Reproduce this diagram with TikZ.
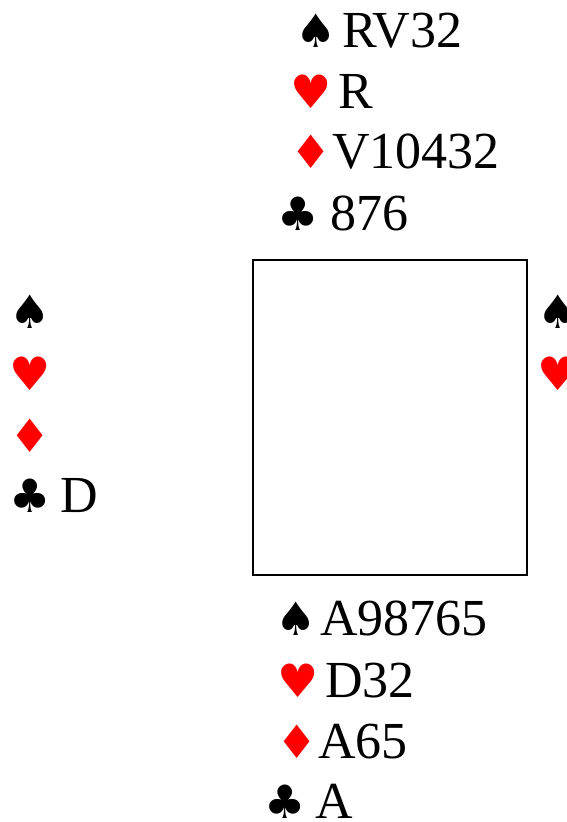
\documentclass[tikz,border=0pt]{standalone}
\usepackage{fontspec}
\setmainfont{Liberation Serif}
\newfontfamily\suitfont{DejaVu Sans}
\definecolor{SuitRed}{rgb}{1,0,0}

\begin{document}
\begin{tikzpicture}[x=1pt,y=-1pt,
  suit/.style={inner sep=0pt,anchor=base west,font=\suitfont\fontsize{46}{54}\selectfont},
  holding/.style={inner sep=0pt,anchor=base west,font=\fontsize{52}{60}\selectfont}]
\useasboundingbox (0,0) rectangle (566,822);

% table
\node[draw,line width=1.5pt,minimum width=274pt,minimum height=315pt,inner sep=0pt] (table) at (390,417.5) {};

% north
\node[suit] (nS) at (295,47) {♠};
\node[holding] (nSh) at (342,47) {RV32};
\node[suit,SuitRed] (nH) at (290,108) {♥};
\node[holding] (nHh) at (338,108) {R};
\node[suit,SuitRed] (nD) at (290,168) {♦};
\node[holding] (nDh) at (332,168) {V10432};
\node[suit] (nC) at (277,230) {♣};
\node[holding] (nCh) at (330,230) {876};

% west
\node[suit] (wS) at (9,328) {♠};
\node[suit,SuitRed] (wH) at (9,390) {♥};
\node[suit,SuitRed] (wD) at (9,452) {♦};
\node[suit] (wC) at (9,512) {♣};
\node[holding] (wCh) at (60,512) {D};

% east
\node[suit] (eS) at (537,328) {♠};
\node[suit,SuitRed] (eH) at (537,390) {♥};

% south
\node[suit] (sS) at (275,635) {♠};
\node[holding] (sSh) at (320,635) {A98765};
\node[suit,SuitRed] (sH) at (277,697) {♥};
\node[holding] (sHh) at (325,697) {D32};
\node[suit,SuitRed] (sD) at (276,758) {♦};
\node[holding] (sDh) at (318,758) {A65};
\node[suit] (sC) at (264,818) {♣};
\node[holding] (sCh) at (315,818) {A};

\end{tikzpicture}
\end{document}
